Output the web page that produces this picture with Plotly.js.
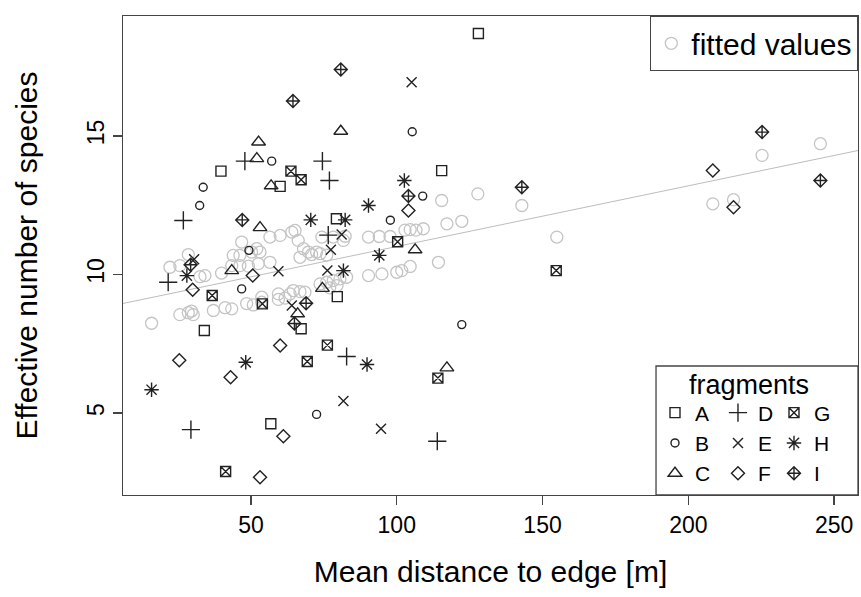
<!DOCTYPE html>
<html><head><meta charset="utf-8">
<script src="https://cdn.plot.ly/plotly-3.0.1.min.js"></script>
<style>html,body{margin:0;padding:0;background:#fff}#chart{width:861px;height:597px}</style>
</head><body><div id="chart"></div>
<script>
// ---- data ----
const fragments = ['A','B','C','D','E','F','G','H','I'];
const aX = [39.7, 60.0, 128.0, 115.4, 79.3, 79.6, 34.0, 67.2, 56.8];
const aY = [13.73, 13.18, 18.70, 13.75, 12.01, 9.20, 7.98, 8.04, 4.61];
const bX = [57.1, 33.6, 32.4, 105.3, 108.9, 97.8, 49.3, 46.8, 122.3, 72.5];
const bY = [14.09, 13.15, 12.49, 15.15, 12.83, 11.96, 10.87, 9.48, 8.19, 4.95];
const cX = [52.6, 52.0, 80.8, 56.9, 53.1, 43.4, 106.3, 74.5, 66.0, 117.2];
const cY = [14.78, 14.18, 15.17, 13.20, 11.69, 10.14, 10.89, 9.50, 8.58, 6.63];
const dX = [47.9, 74.5, 76.9, 26.8, 76.5, 21.6, 82.8, 29.4, 113.9];
const dY = [14.09, 14.09, 13.39, 11.95, 11.42, 9.72, 7.04, 4.40, 3.98];
const eX = [105.1, 59.4, 81.1, 77.4, 76.2, 64.0, 81.7, 94.6, 30.5];
const eY = [16.94, 10.12, 11.44, 10.89, 10.14, 8.88, 5.43, 4.43, 10.55];
const fX = [104.0, 50.6, 30.0, 25.4, 43.0, 60.0, 61.1, 53.1, 208.4, 215.5];
const fY = [12.31, 9.96, 9.45, 6.90, 6.29, 7.44, 4.16, 2.68, 13.75, 12.43];
const gX = [63.7, 67.2, 100.3, 36.7, 53.9, 76.2, 69.3, 114.1, 41.3, 154.7];
const gY = [13.73, 13.42, 11.18, 9.24, 8.94, 7.45, 6.86, 6.26, 2.89, 10.14];
const hX = [70.5, 82.3, 90.3, 102.6, 94.0, 81.7, 48.2, 89.8, 15.9, 28.0];
const hY = [11.97, 11.97, 12.49, 13.39, 10.69, 10.14, 6.83, 6.75, 5.84, 9.96];
const iX = [80.8, 64.4, 47.0, 104.0, 142.9, 225.3, 245.3, 68.9, 64.9, 29.3];
const iY = [17.40, 16.26, 11.97, 12.83, 13.15, 15.14, 13.39, 8.96, 8.23, 10.35];

const fitX = [15.9, 22.2, 25.6, 28.5, 25.6, 28.5, 29.6, 30.2, 32.5, 34.2, 37.1, 39.9, 41.1, 43.4, 43.4, 43.9,
  46.2, 46.2, 46.8, 48.5, 49.1, 50.2, 50.8, 52.0, 52.5, 53.1, 53.7, 53.7, 56.5, 56.5, 59.4, 59.4, 60.0, 61.7,
  63.4, 64.0, 64.5, 65.1, 66.2, 66.8, 66.8, 68.0, 68.5, 69.7, 70.8, 72.5, 73.7, 73.7, 74.3, 76.0, 76.0, 77.0,
  78.2, 78.2, 79.5, 80.5, 81.7, 82.3, 82.8, 90.3, 90.3, 94.0, 94.9, 97.7, 100.0, 101.7, 102.8, 104.6, 104.6,
  106.6, 109.1, 114.3, 115.4, 117.2, 122.3, 127.8, 142.9, 154.9, 208.4, 215.5, 225.3, 245.3];
const fitY = [8.24, 10.26, 10.32, 10.72, 8.55, 8.62, 8.68, 8.55, 9.92, 9.96, 8.70, 10.05, 8.80, 8.76, 10.32, 10.69,
  10.32, 10.69, 11.17, 8.95, 10.30, 10.81, 8.90, 10.93, 10.39, 10.81, 9.00, 9.18, 10.44, 11.35, 9.10, 9.30, 11.41, 9.15,
  9.30, 11.53, 9.42, 11.59, 11.23, 10.62, 9.38, 10.93, 9.36, 10.81, 10.72, 10.81, 10.75, 9.66, 11.35, 9.72, 10.70, 9.52,
  9.78, 11.35, 9.60, 9.84, 11.23, 11.38, 9.90, 9.96, 11.35, 11.37, 10.02, 11.37, 10.08, 10.14, 11.60, 10.29, 11.62,
  11.60, 11.65, 10.44, 12.67, 11.83, 11.92, 12.91, 12.49, 11.35, 12.55, 12.70, 14.30, 14.72];

const lineIntercept = 8.82;
const lineSlope = 0.0219;
const xTicks = [50, 100, 150, 200, 250];
const yTicks = [5, 10, 15];
const xRange = [6.1, 258.2];
const yRange = [2.04, 19.33];

// ---- styling ----
const FONT = 'Liberation Sans, Arial, sans-serif';
const INK = '#222';
const GREY = '#c4c4c4';
const series = [
  {name:'A', x:aX, y:aY, symbol:'square-open', size:10, legend:'legend2'},
  {name:'B', x:bX, y:bY, symbol:'circle-open', size:8, legend:'legend2'},
  {name:'C', x:cX, y:cY, symbol:'triangle-up-open', size:12, legend:'legend2'},
  {name:'D', x:dX, y:dY, symbol:'cross-thin-open', size:13, legend:'legend3'},
  {name:'E', x:eX, y:eY, symbol:'x-thin-open', size:10, legend:'legend3'},
  {name:'F', x:fX, y:fY, symbol:'diamond-open', size:10, legend:'legend3'},
  {name:'G', x:gX, y:gY, symbol:'square-x-open', size:10, legend:'legend4'},
  {name:'H', x:hX, y:hY, symbol:'asterisk-open', size:12, legend:'legend4'},
  {name:'I', x:iX, y:iY, symbol:'diamond-cross-open', size:10, legend:'legend4'}
];

const traces = [];
traces.push({
  type:'scatter', mode:'markers', name:'fitted values', x:fitX, y:fitY, legend:'legend',
  marker:{symbol:'circle-open', size:12, color:GREY, line:{width:1.3, color:GREY}}
});
traces.push({
  type:'scatter', mode:'lines', showlegend:false, hoverinfo:'skip',
  x:xRange, y:xRange.map(v => lineIntercept + lineSlope * v),
  line:{color:'#bdbdbd', width:1}
});
series.forEach(s => traces.push({
  type:'scatter', mode:'markers', name:s.name, x:s.x, y:s.y, legend:s.legend,
  marker:{symbol:s.symbol, size:s.size, color:INK, line:{width:1.4, color:INK}}
}));

const axisCommon = {
  showgrid:false, zeroline:false, showline:true, mirror:true, linecolor:'#444', linewidth:1.3,
  ticks:'outside', ticklen:9, tickwidth:1.3, tickcolor:'#444',
  tickfont:{family:FONT, size:23, color:'#000'}
};

const layout = {
  width:861, height:597,
  margin:{l:123, r:3, t:16, b:102},
  paper_bgcolor:'#fff', plot_bgcolor:'#fff',
  font:{family:FONT, color:'#000'},
  xaxis: Object.assign({}, axisCommon, {
    range:xRange, tickmode:'array', tickvals:xTicks, ticktext:xTicks.map(String),
    title:{text:'Mean distance to edge [m]', font:{family:FONT, size:30}, standoff:24}
  }),
  yaxis: Object.assign({}, axisCommon, {
    range:yRange, tickmode:'array', tickvals:yTicks, ticktext:yTicks.map(String), tickangle:-90,
    title:{text:'Effective number of species', font:{family:FONT, size:30}, standoff:36}
  }),
  legend:{x:1, xanchor:'right', y:1, yanchor:'top', orientation:'v',
    bgcolor:'#fff', bordercolor:'#444', borderwidth:1.3, font:{family:FONT, size:30}},
  legend2:{x:0.7238, xanchor:'left', y:0.1086, yanchor:'middle', bgcolor:'rgba(0,0,0,0)', borderwidth:0,
    font:{family:FONT, size:21}, tracegroupgap:0},
  legend3:{x:0.8095, xanchor:'left', y:0.1086, yanchor:'middle', bgcolor:'rgba(0,0,0,0)', borderwidth:0,
    font:{family:FONT, size:21}, tracegroupgap:0},
  legend4:{x:0.8857, xanchor:'left', y:0.1086, yanchor:'middle', bgcolor:'rgba(0,0,0,0)', borderwidth:0,
    font:{family:FONT, size:21}, tracegroupgap:0},
  shapes:[{type:'rect', xref:'paper', yref:'paper', x0:0.7252, x1:1, y0:0, y1:0.2693, layer:'above',
    fillcolor:'#fff', line:{color:'#444', width:1.3}}],
  annotations:[{xref:'paper', yref:'paper', x:0.8517, y:0.2296, text:'fragments', showarrow:false,
    xanchor:'center', yanchor:'middle', font:{family:FONT, size:27, color:'#000'}}]
};

Plotly.newPlot('chart', traces, layout, {displayModeBar:false, staticPlot:true});
</script>
</body></html>
